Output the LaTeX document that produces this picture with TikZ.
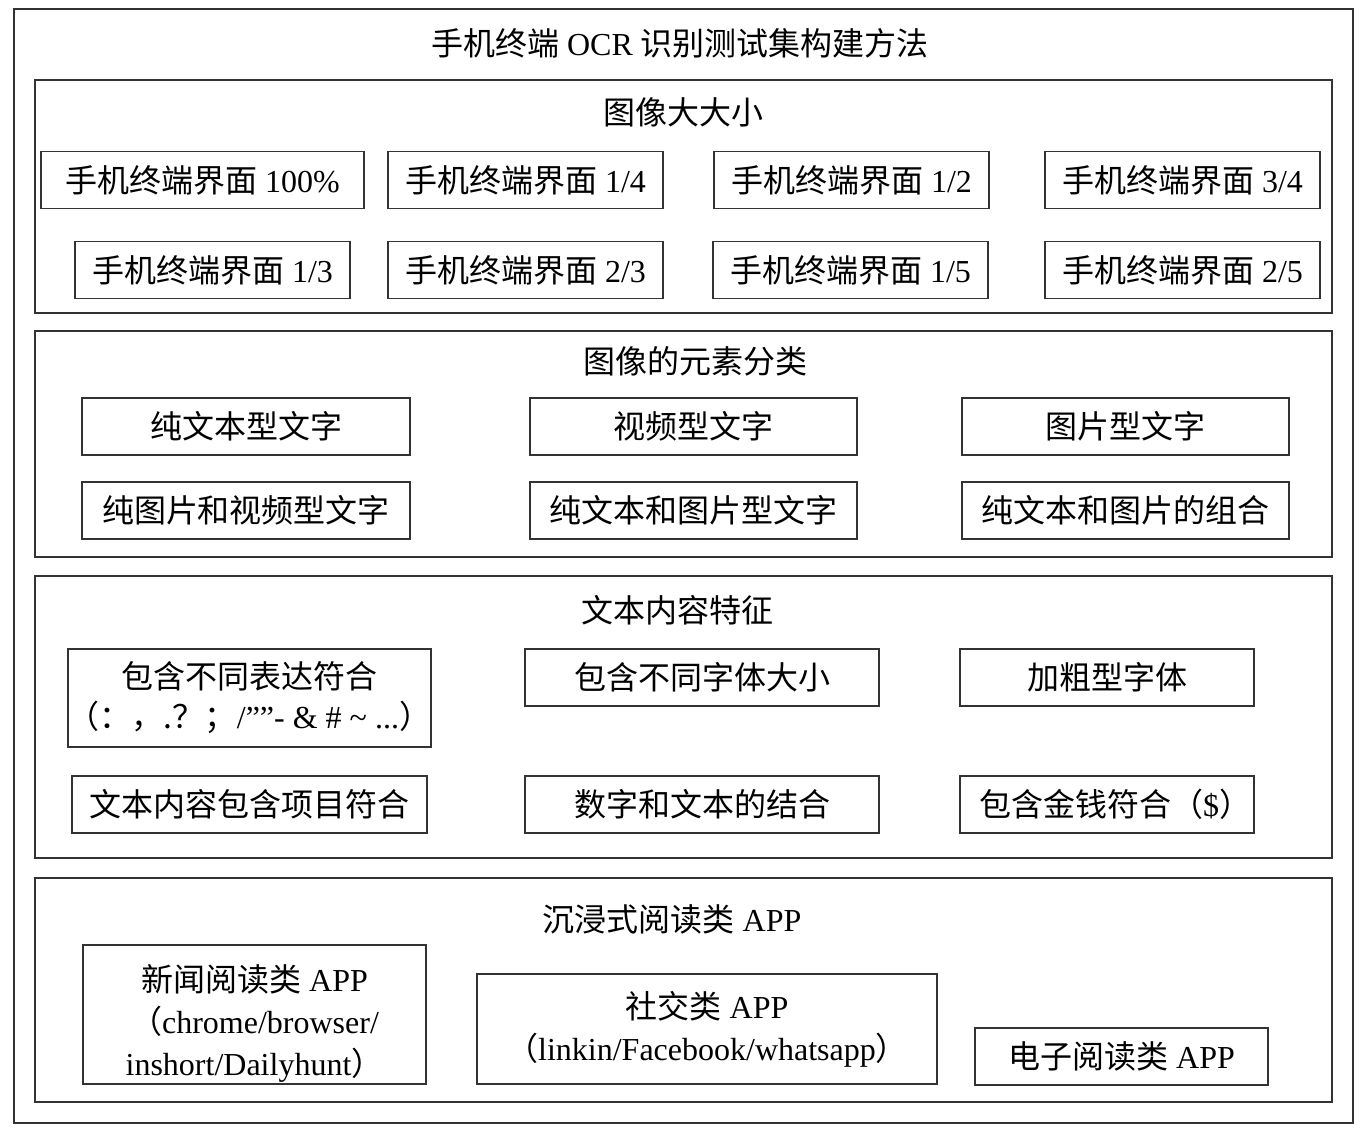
\documentclass[tikz,border=0pt]{standalone}
\usepackage{fontspec}
\setmainfont{Liberation Serif}
\newfontfamily\cjk{Noto Sans CJK SC}
\usetikzlibrary{positioning}
\newcommand{\zh}[1]{{\cjk #1}}

\begin{document}
\begin{tikzpicture}[x=0.5pt,y=-0.5pt,
    frame/.style={draw=black!80,line width=0.8pt},
    item/.style={draw=black!80,line width=0.8pt,inner sep=0pt,align=center,
      minimum height=28.5pt,font=\fontsize{16}{20}\selectfont},
    head/.style={inner sep=0pt,font=\fontsize{16}{20}\selectfont}]
        \useasboundingbox (0,0) rectangle (1367,1138);

        % Outer frame and title
        \draw[frame] (14,9) rectangle (1353,1123);
        \node[head] (title) at (680,43) {\zh{手机终端} OCR \zh{识别测试集构建方法}};

        % Image size
        \draw[frame] (35,80) rectangle (1332,313);
        \node[head] (sizehead) at (683,112) {\zh{图像大大小}};
        \node[item,minimum width=161.5pt] (full) at (202.5,180) {\zh{手机终端界面} 100\%};
        \node[item,minimum width=137.5pt] (quarter) at (525.5,180) {\zh{手机终端界面} 1/4};
        \node[item,minimum width=137.5pt] (half) at (851.5,180) {\zh{手机终端界面} 1/2};
        \node[item,minimum width=137.5pt] (threeq) at (1182.5,180) {\zh{手机终端界面} 3/4};
        \node[item,minimum width=137.5pt] (third) at (212.5,270) {\zh{手机终端界面} 1/3};
        \node[item,minimum width=137.5pt] (twothird) at (525.5,270) {\zh{手机终端界面} 2/3};
        \node[item,minimum width=137.5pt] (fifth) at (850.5,270) {\zh{手机终端界面} 1/5};
        \node[item,minimum width=137.5pt] (twofifth) at (1182.5,270) {\zh{手机终端界面} 2/5};

        % Image elements
        \draw[frame] (35,331) rectangle (1332,557);
        \node[head] (elemhead) at (695,361) {\zh{图像的元素分类}};
        \node[item,minimum width=164pt] (puretext) at (246,426.5) {\zh{纯文本型文字}};
        \node[item,minimum width=163.5pt] (video) at (693.5,426.5) {\zh{视频型文字}};
        \node[item,minimum width=163.5pt] (picture) at (1125.5,426.5) {\zh{图片型文字}};
        \node[item,minimum width=164pt] (picvideo) at (246,510.5) {\zh{纯图片和视频型文字}};
        \node[item,minimum width=163.5pt] (textpic) at (693.5,510.5) {\zh{纯文本和图片型文字}};
        \node[item,minimum width=163.5pt] (combo) at (1125.5,510.5) {\zh{纯文本和图片的组合}};

        % Text content
        \draw[frame] (35,576) rectangle (1332,858);
        \node[head] (texthead) at (677,610) {\zh{文本内容特征}};
        \node[item,minimum width=177.5pt,minimum height=49pt] (punct) at (249.5,698)
          {\zh{包含不同表达符合}\\\zh{（：，.？；}/\symbol{34}\symbol{34}- \& \# \textasciitilde\ ...\zh{）}};
        \node[item,minimum width=177pt] (fontsize) at (702,677.5) {\zh{包含不同字体大小}};
        \node[item,minimum width=147pt] (bold) at (1107,677.5) {\zh{加粗型字体}};
        \node[item,minimum width=177.5pt] (bullet) at (249.5,804.5) {\zh{文本内容包含项目符合}};
        \node[item,minimum width=177pt] (numtext) at (702,804.5) {\zh{数字和文本的结合}};
        \node[item,minimum width=147pt] (money) at (1107,804.5) {\hspace*{8pt}\zh{包含金钱符合}\zh{（}\$\zh{）}};

        % Reading apps
        \draw[frame] (35,878) rectangle (1332,1102);
        \node[head] (apphead) at (672,919) {\zh{沉浸式阅读类} APP};
        \node[item,minimum width=171.5pt,minimum height=69.5pt,font=\fontsize{16}{21}\selectfont] (news) at (254.5,1014.5)
          {\rule{0pt}{22pt}\zh{新闻阅读类} APP\\\zh{（}chrome/browser/\\inshort/Dailyhunt\zh{）}};
        \node[item,minimum width=230pt,minimum height=55pt,font=\fontsize{16}{21}\selectfont] (social) at (707,1029)
          {\zh{社交类} APP\\\zh{（}linkin/Facebook/whatsapp\zh{）}};
        \node[item,minimum width=146.5pt] (ebook) at (1121.5,1056.5) {\zh{电子阅读类} APP};
      \end{tikzpicture}
\end{document}
